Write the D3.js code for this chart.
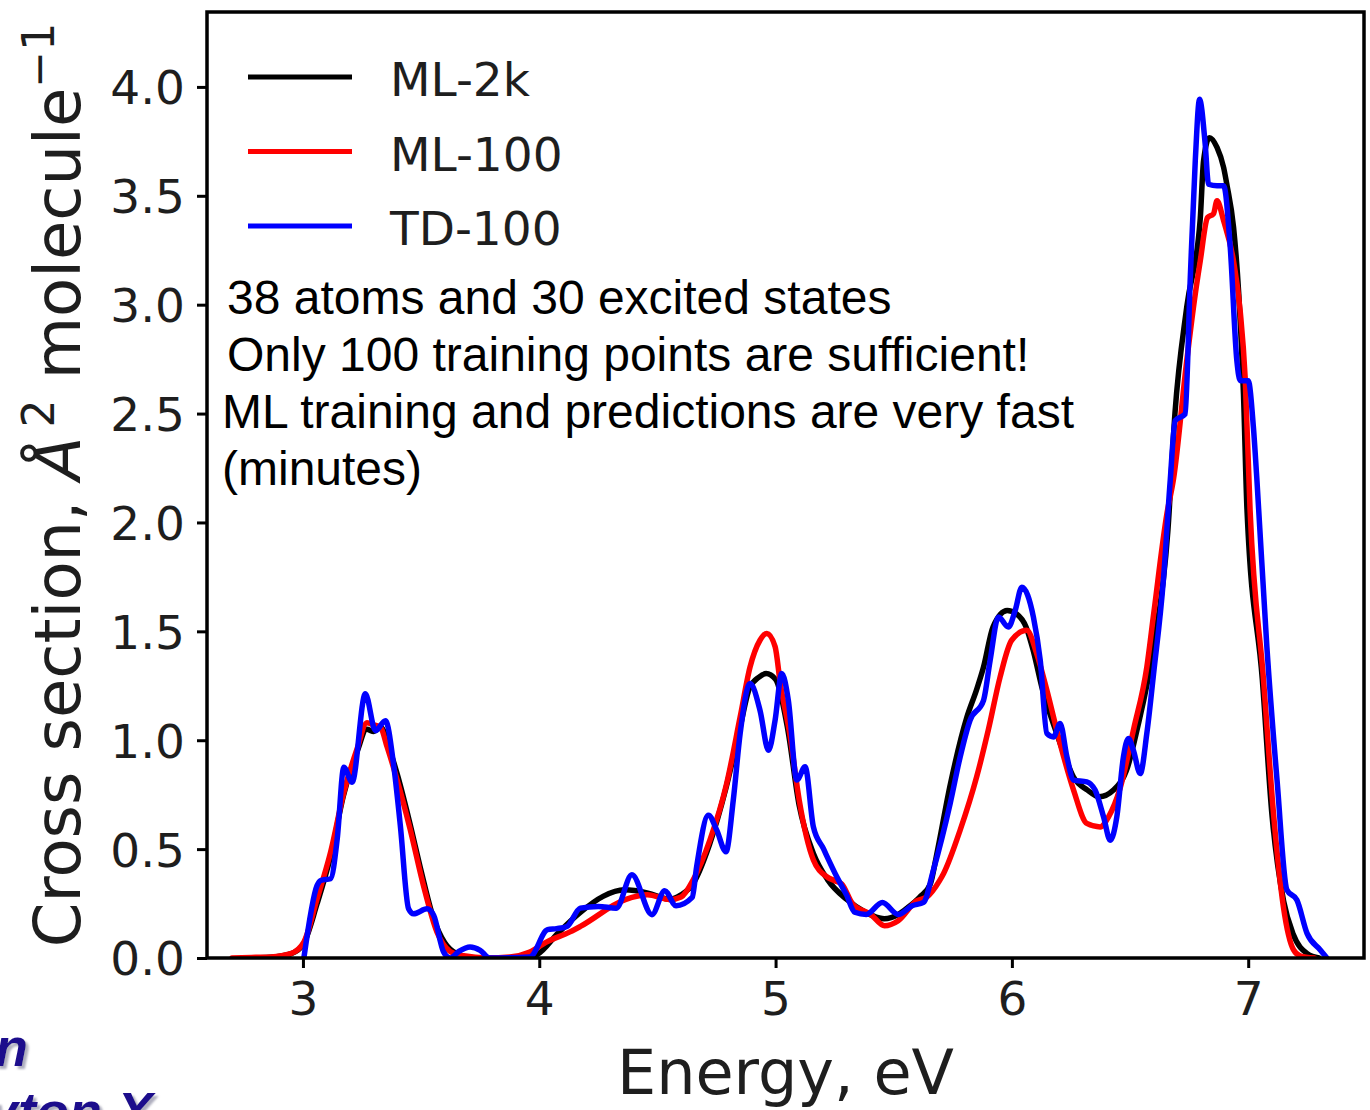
<!DOCTYPE html>
<html>
<head>
<meta charset="utf-8">
<script src="https://cdn.jsdelivr.net/npm/d3@7"></script>
<style>
  html, body { margin: 0; padding: 0; background: #fff; overflow: hidden; }
  svg { display: block; }
</style>
</head>
<body>
<svg id="chart" width="1370" height="1110"></svg>
<script>
// Absorption cross section spectra: energies (eV) and cross sections (Å² molecule⁻¹)
const energyML2k = [2.78,2.88,2.95,3.00,3.06,3.12,3.17,3.23,3.27,3.30,3.33,3.36,3.40,3.45,3.50,3.55,3.60,3.65,3.72,3.85,3.95,3.99,4.08,4.17,4.27,4.36,4.46,4.55,4.60,4.65,4.72,4.79,4.85,4.89,4.93,4.96,5.00,5.05,5.10,5.16,5.22,5.30,5.38,5.46,5.52,5.56,5.61,5.655,5.68,5.74,5.81,5.85,5.88,5.92,5.98,6.02,6.06,6.09,6.13,6.18,6.22,6.26,6.32,6.37,6.43,6.49,6.53,6.60,6.66,6.69,6.74,6.797,6.811,6.836,6.868,6.896,6.91,6.938,6.96,6.98,6.995,7.06,7.10,7.15,7.19,7.25,7.30];
const csML2k     = [0.0,0.005,0.02,0.06,0.25,0.48,0.74,0.95,1.05,1.04,1.06,0.98,0.84,0.63,0.40,0.19,0.07,0.02,0.0,0.0,0.005,0.015,0.115,0.206,0.283,0.313,0.298,0.27,0.29,0.34,0.52,0.78,1.06,1.24,1.29,1.306,1.28,1.06,0.70,0.48,0.36,0.27,0.21,0.18,0.20,0.232,0.28,0.34,0.465,0.80,1.107,1.23,1.336,1.52,1.596,1.58,1.52,1.413,1.23,1.061,0.939,0.832,0.771,0.74,0.771,0.878,1.05,1.43,1.96,2.5,2.99,3.394,3.66,3.767,3.722,3.63,3.55,3.355,3.049,2.59,2.055,1.275,0.664,0.26,0.11,0.02,0.0];

const energyML100 = [2.70,2.80,2.864,2.948,3.004,3.06,3.117,3.173,3.229,3.271,3.30,3.328,3.356,3.398,3.454,3.51,3.567,3.623,3.68,3.778,3.876,3.96,4.03,4.13,4.174,4.364,4.458,4.553,4.60,4.652,4.722,4.793,4.85,4.892,4.934,4.963,4.998,5.02,5.06,5.10,5.16,5.217,5.25,5.28,5.326,5.403,5.461,5.519,5.597,5.64,5.694,5.711,5.781,5.851,5.90,5.95,5.999,6.063,6.105,6.148,6.204,6.261,6.317,6.374,6.409,6.458,6.515,6.571,6.60,6.656,6.684,6.74,6.776,6.797,6.828,6.853,6.868,6.896,6.938,6.966,6.987,7.008,7.065,7.107,7.149,7.192,7.22,7.28];
const csML100     = [0.0,0.003,0.005,0.02,0.073,0.272,0.486,0.76,0.96,1.08,1.07,1.06,0.97,0.82,0.59,0.333,0.12,0.03,0.01,0.0,0.005,0.028,0.073,0.12,0.145,0.268,0.29,0.268,0.28,0.36,0.541,0.801,1.106,1.336,1.459,1.49,1.43,1.26,1.03,0.725,0.45,0.373,0.355,0.34,0.248,0.2,0.148,0.171,0.263,0.28,0.355,0.388,0.587,0.832,1.046,1.29,1.459,1.505,1.398,1.23,0.985,0.771,0.618,0.602,0.648,0.78,1.05,1.336,1.58,2.04,2.2,2.743,3.049,3.2,3.4,3.417,3.477,3.385,3.2,2.972,2.667,2.055,1.275,0.664,0.235,0.037,0.01,0.0];

const energyTD100 = [3.004,3.06,3.075,3.117,3.145,3.173,3.208,3.264,3.307,3.349,3.384,3.412,3.447,3.468,3.525,3.553,3.595,3.623,3.66,3.707,3.75,3.79,3.96,4.035,4.073,4.117,4.174,4.25,4.326,4.392,4.477,4.531,4.579,4.647,4.666,4.716,4.751,4.79,4.821,4.85,4.892,4.934,4.97,4.998,5.026,5.054,5.09,5.125,5.16,5.202,5.259,5.30,5.335,5.384,5.452,5.519,5.578,5.626,5.668,5.739,5.781,5.823,5.88,5.908,5.943,5.985,6.014,6.042,6.091,6.12,6.148,6.176,6.204,6.233,6.261,6.317,6.352,6.388,6.416,6.444,6.472,6.493,6.514,6.543,6.571,6.599,6.641,6.67,6.691,6.733,6.755,6.776,6.794,6.818,6.832,6.868,6.896,6.924,6.952,6.966,7.0,7.022,7.037,7.079,7.122,7.164,7.206,7.249,7.305,7.333];
const csTD100     = [0.0,0.333,0.356,0.364,0.547,0.876,0.807,1.213,1.044,1.09,0.884,0.609,0.226,0.203,0.226,0.196,0.028,0.0,0.03,0.05,0.035,0.0,0.005,0.13,0.135,0.145,0.229,0.237,0.229,0.382,0.199,0.309,0.24,0.278,0.419,0.656,0.587,0.488,0.725,1.03,1.26,1.138,0.954,1.092,1.306,1.183,0.817,0.878,0.602,0.503,0.373,0.29,0.21,0.2,0.255,0.2,0.24,0.255,0.404,0.71,0.923,1.092,1.183,1.367,1.566,1.52,1.596,1.703,1.566,1.367,1.031,1.015,1.077,0.923,0.817,0.809,0.771,0.648,0.541,0.648,0.923,1.008,0.954,0.847,1.031,1.3,1.734,2.193,2.468,2.498,3.125,3.66,3.943,3.737,3.553,3.546,3.546,3.263,2.743,2.651,2.651,2.437,2.193,1.428,0.817,0.312,0.266,0.113,0.037,0.0];

const seriesNames  = ["ML-2k", "ML-100", "TD-100"];
const seriesColors = ["#000000", "#ff0000", "#0000ff"];
const xTicks = [3, 4, 5, 6, 7];
const yTicks = [0, 0.5, 1.0, 1.5, 2.0, 2.5, 3.0, 3.5, 4.0];
const notes = [
  "38 atoms and 30 excited states",
  "Only 100 training points are sufficient!",
  "ML training and predictions are very fast",
  "(minutes)"
];
const captionLines = ["n", "yton X"];

const series = [
  { name: seriesNames[0], color: seriesColors[0], x: energyML2k,  y: csML2k },
  { name: seriesNames[1], color: seriesColors[1], x: energyML100, y: csML100 },
  { name: seriesNames[2], color: seriesColors[2], x: energyTD100, y: csTD100 }
];

const svg = d3.select("#chart");
const plot = { left: 207, right: 1364, top: 12, bottom: 958 };

const x = d3.scaleLinear().domain([2.594, 7.49]).range([plot.left, plot.right]);
const y = d3.scaleLinear().domain([0, 4.344]).range([plot.bottom, plot.top]);

const tickFont = "'DejaVu Sans', sans-serif";

// Soft shadow for the caption text
const defs = svg.append("defs");
const shadow = defs.append("filter").attr("id", "capShadow")
  .attr("x", "-10%").attr("y", "-10%").attr("width", "130%").attr("height", "130%");
shadow.append("feDropShadow")
  .attr("dx", 3).attr("dy", 3).attr("stdDeviation", 1)
  .attr("flood-color", "#9a9aae").attr("flood-opacity", 0.8);

defs.append("clipPath").attr("id", "plotClip")
  .append("rect")
  .attr("x", plot.left).attr("y", plot.top)
  .attr("width", plot.right - plot.left).attr("height", plot.bottom - plot.top);

// Spectra
const line = d3.line()
  .x(d => x(d[0]))
  .y(d => y(d[1]))
  .curve(d3.curveMonotoneX);

svg.append("g").attr("clip-path", "url(#plotClip)")
  .selectAll("path")
  .data(series)
  .join("path")
  .attr("d", s => line(s.x.map((v, i) => [v, s.y[i]])))
  .attr("fill", "none")
  .attr("stroke", s => s.color)
  .attr("stroke-width", 5.5)
  .attr("stroke-linejoin", "round")
  .attr("stroke-linecap", "round");

// Axes
const xAxis = d3.axisBottom(x).tickValues(xTicks).tickFormat(d3.format("d"))
  .tickSizeInner(10).tickSizeOuter(0).tickPadding(14);
const yAxis = d3.axisLeft(y).tickValues(yTicks).tickFormat(d3.format(".1f"))
  .tickSizeInner(10).tickSizeOuter(0).tickPadding(12);

const gx = svg.append("g").attr("transform", `translate(0,${plot.bottom})`).call(xAxis);
const gy = svg.append("g").attr("transform", `translate(${plot.left},0)`).call(yAxis);

[gx, gy].forEach(g => {
  g.select(".domain").remove();
  g.selectAll(".tick line").attr("stroke", "#000").attr("stroke-width", 3);
  g.selectAll(".tick text")
    .attr("fill", "#1e1e1e")
    .style("font-family", tickFont)
    .style("font-size", "47px");
});
gx.selectAll(".tick text").attr("dy", "0.71em");
gy.selectAll(".tick text").attr("dy", "0.36em");

// Frame
svg.append("rect")
  .attr("x", plot.left).attr("y", plot.top)
  .attr("width", plot.right - plot.left).attr("height", plot.bottom - plot.top)
  .attr("fill", "none").attr("stroke", "#000").attr("stroke-width", 3.5);

// Axis titles
svg.append("text")
  .attr("x", (plot.left + plot.right) / 2).attr("y", 1094)
  .attr("text-anchor", "middle")
  .attr("fill", "#1e1e1e")
  .style("font-family", tickFont).style("font-size", "62px")
  .text("Energy, eV");

const yl = svg.append("text")
  .attr("transform", `translate(80,${(plot.top + plot.bottom) / 2}) rotate(-90)`)
  .attr("text-anchor", "middle")
  .attr("fill", "#1e1e1e")
  .style("font-family", tickFont).style("font-size", "64px");
yl.append("tspan").text("Cross section, ");
yl.append("tspan").style("font-style", "italic").text("Å");
yl.append("tspan").attr("dy", -26).style("font-size", "44px").text("\u20092");
yl.append("tspan").attr("dy", 26).text(" molecule");
yl.append("tspan").attr("dy", -26).style("font-size", "44px").text("\u22121");

// Legend
const legend = svg.append("g");
series.forEach((s, i) => {
  const ly = 77 + i * 74.5;
  legend.append("line")
    .attr("x1", 248).attr("x2", 352).attr("y1", ly).attr("y2", ly)
    .attr("stroke", s.color).attr("stroke-width", 5);
  legend.append("text")
    .attr("x", 390).attr("y", ly + 19)
    .attr("fill", "#1e1e1e")
    .style("font-family", tickFont).style("font-size", "47px")
    .text(s.name);
});

// Notes inside the plot
const noteX = [227, 227, 222, 222];
svg.append("g").selectAll("text")
  .data(notes)
  .join("text")
  .attr("x", (d, i) => noteX[i])
  .attr("y", (d, i) => 314 + i * 57)
  .attr("fill", "#000")
  .style("font-family", "'Liberation Sans', Arial, sans-serif")
  .style("font-size", "48px")
  .text(d => d);

// Slide caption fragments at the lower left
const capPos = [[28, 1066, "end"], [-12, 1130, "start"]];
svg.append("g")
  .attr("filter", "url(#capShadow)")
  .style("font-family", "'Liberation Sans', Arial, sans-serif")
  .style("font-weight", "bold").style("font-style", "italic")
  .style("font-size", "54px")
  .selectAll("text")
  .data(captionLines)
  .join("text")
  .attr("x", (d, i) => capPos[i][0])
  .attr("y", (d, i) => capPos[i][1])
  .attr("text-anchor", (d, i) => capPos[i][2])
  .attr("fill", "#1c0a8c")
  .text(d => d);
</script>
</body>
</html>
